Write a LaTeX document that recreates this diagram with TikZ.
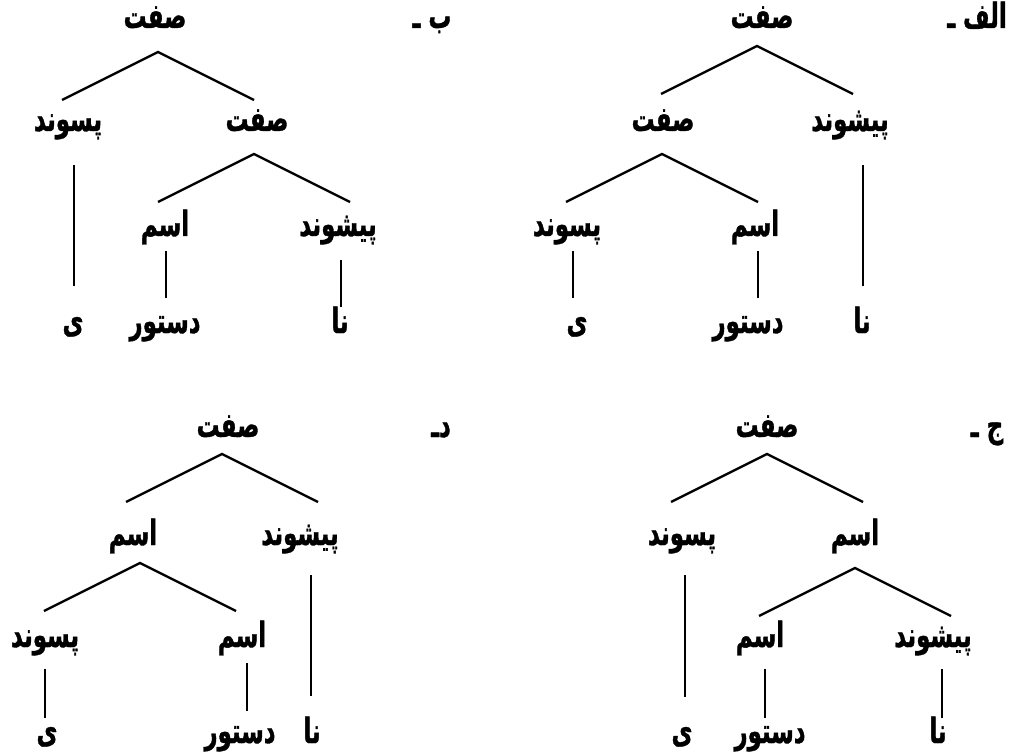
\documentclass[tikz,border=0pt]{standalone}
\usepackage{fontspec}
\TeXXeTstate=1
\newfontfamily\arabicfont[Script=Arabic,FakeStretch=0.66,BoldFeatures={FakeBold=1}]{DejaVu Sans}
\begin{document}
\begin{tikzpicture}[x=0.75pt,y=-0.75pt,
  lbl/.style={font=\arabicfont\bfseries\fontsize{26}{30}\selectfont,inner sep=0pt,anchor=base},
  edge/.style={line width=1.8pt}]
\useasboundingbox (0,0) rectangle (1016,755);
\newcommand{\fa}[1]{\beginR #1\endR}
% ---------- Tree alef (top right)
\node[lbl] (A0) at (977,28) {\fa{الف ـ}};
\node[lbl] (A1) at (762,28) {\fa{صفت}};
\node[lbl] (A2) at (663,131) {\fa{صفت}};
\node[lbl] (A3) at (850,131) {\fa{پیشوند}};
\node[lbl] (A4) at (567,236) {\fa{پسوند}};
\node[lbl] (A5) at (755,236) {\fa{اسم}};
\node[lbl] (A6) at (577,333) {\fa{ی}};
\node[lbl] (A7) at (748,333) {\fa{دستور}};
\node[lbl] (A8) at (862,333) {\fa{نا}};
\coordinate (Aa) at (757,46);
\coordinate (Ab) at (662,154);
\draw[edge] (Aa) ++(-96,48) -- (Aa) -- ++(96,48);
\draw[edge] (Ab) ++(-96,48) -- (Ab) -- ++(96,48);
\draw[edge] (573,251) -- (573,298);
\draw[edge] (758,251) -- (758,298);
\draw[edge] (863,165) -- (863,286);
% ---------- Tree be (top left)
\node[lbl] (B0) at (432,28) {\fa{ب ـ}};
\node[lbl] (B1) at (155,28) {\fa{صفت}};
\node[lbl] (B2) at (68,131) {\fa{پسوند}};
\node[lbl] (B3) at (257,131) {\fa{صفت}};
\node[lbl] (B4) at (165,236) {\fa{اسم}};
\node[lbl] (B5) at (338,236) {\fa{پیشوند}};
\node[lbl] (B6) at (73,333) {\fa{ی}};
\node[lbl] (B7) at (165,333) {\fa{دستور}};
\node[lbl] (B8) at (340,333) {\fa{نا}};
\coordinate (Ba) at (158,52);
\coordinate (Bb) at (254,154);
\draw[edge] (Ba) ++(-96,48) -- (Ba) -- ++(96,48);
\draw[edge] (Bb) ++(-96,48) -- (Bb) -- ++(96,48);
\draw[edge] (74,165) -- (74,286);
\draw[edge] (166,251) -- (166,298);
\draw[edge] (341,260) -- (341,307);
% ---------- Tree jim (bottom right)
\node[lbl] (C0) at (987,437) {\fa{ج ـ}};
\node[lbl] (C1) at (767,437) {\fa{صفت}};
\node[lbl] (C2) at (682,545) {\fa{پسوند}};
\node[lbl] (C3) at (855,545) {\fa{اسم}};
\node[lbl] (C4) at (760,647) {\fa{اسم}};
\node[lbl] (C5) at (933,647) {\fa{پیشوند}};
\node[lbl] (C6) at (682,743) {\fa{ی}};
\node[lbl] (C7) at (770,743) {\fa{دستور}};
\node[lbl] (C8) at (938,743) {\fa{نا}};
\coordinate (Ca) at (767,454);
\coordinate (Cb) at (855,568);
\draw[edge] (Ca) ++(-96,48) -- (Ca) -- ++(96,48);
\draw[edge] (Cb) ++(-96,48) -- (Cb) -- ++(96,48);
\draw[edge] (685,575) -- (685,697);
\draw[edge] (765,669) -- (765,718);
\draw[edge] (942,669) -- (942,718);
% ---------- Tree dal (bottom left)
\node[lbl] (D0) at (441,437) {\fa{دـ}};
\node[lbl] (D1) at (228,437) {\fa{صفت}};
\node[lbl] (D2) at (133,545) {\fa{اسم}};
\node[lbl] (D3) at (300,545) {\fa{پیشوند}};
\node[lbl] (D4) at (45,647) {\fa{پسوند}};
\node[lbl] (D5) at (242,647) {\fa{اسم}};
\node[lbl] (D6) at (47,743) {\fa{ی}};
\node[lbl] (D7) at (240,743) {\fa{دستور}};
\node[lbl] (D8) at (312,743) {\fa{نا}};
\coordinate (Da) at (222,454);
\coordinate (Db) at (140,563);
\draw[edge] (Da) ++(-96,48) -- (Da) -- ++(96,48);
\draw[edge] (Db) ++(-96,48) -- (Db) -- ++(96,48);
\draw[edge] (45,669) -- (45,718);
\draw[edge] (247,663) -- (247,711);
\draw[edge] (311,575) -- (311,696);
\end{tikzpicture}
\end{document}
